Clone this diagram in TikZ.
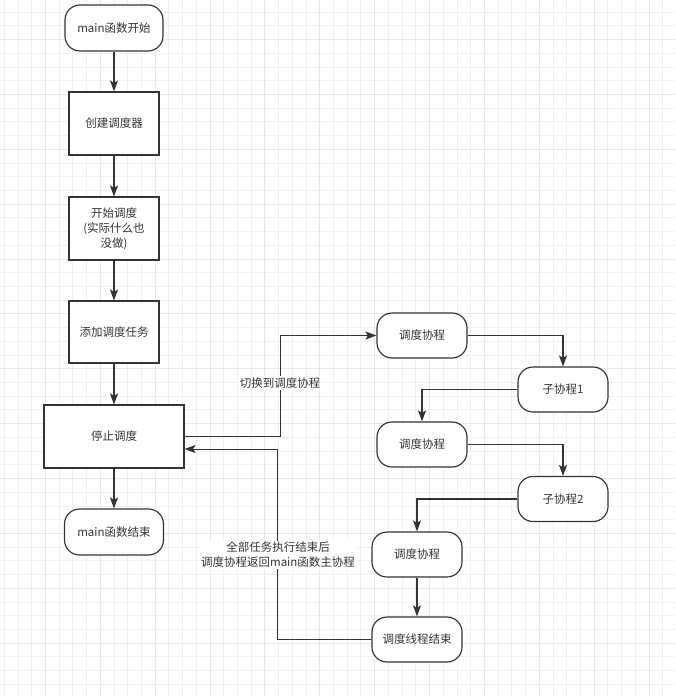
\documentclass[tikz,border=0pt]{standalone}
\usepackage{fontspec}
\setmainfont{Noto Sans CJK SC}
\usetikzlibrary{arrows.meta,calc}
\definecolor{ink}{HTML}{333333}
\definecolor{gridminor}{HTML}{F1F1F1}
\definecolor{gridmajor}{HTML}{E8E8E8}
\tikzset{
  base/.style={draw=ink, line width=1.15pt, fill=white, text=ink, inner sep=0pt,
    align=center, font=\fontsize{11.5}{15}\selectfont},
  boxnode/.style={base, rectangle, minimum width=90pt, minimum height=63pt},
  pill/.style={base, rectangle, rounded corners=15pt, minimum width=90pt, minimum height=45pt},
  arr/.style={draw=ink, line width=1.3pt, -{Stealth[length=11pt,width=8pt,inset=2.5pt]}},
  thinarr/.style={arr, line width=1pt},
  lbl/.style={fill=white, text=ink, inner sep=1.5pt, align=center,
    font=\fontsize{11.5}{15}\selectfont},
}
\begin{document}
\begin{tikzpicture}[x=1pt, y=-1pt]
\useasboundingbox (0,0) rectangle (675,696);
\fill[white] (0,0) rectangle (675,696);

% background grid: light lines every 13.7 units, darker every fourth,
% snapped to whole units so each line stays one unit wide
\foreach \k in {-3,...,46} {
  \pgfmathsetmacro\gx{round(45+13.717*\k)+0.5}
  \draw[gridminor, line width=1pt] (\gx,0) -- (\gx,696);
}
\foreach \k in {-6,...,43} {
  \pgfmathsetmacro\gy{round(94+13.717*\k)+0.5}
  \draw[gridminor, line width=1pt] (0,\gy) -- (675,\gy);
}
\foreach \k in {0,...,11} {
  \pgfmathsetmacro\gx{round(45+54.87*\k)+0.5}
  \draw[gridmajor, line width=1pt] (\gx,0) -- (\gx,696);
}
\foreach \k in {-1,...,10} {
  \pgfmathsetmacro\gy{round(94+54.87*\k)+0.5}
  \draw[gridmajor, line width=1pt] (0,\gy) -- (675,\gy);
}

% main thread
\node[pill, minimum width=98pt, minimum height=46pt] (start) at (114,28) {main函数开始};
\node[boxnode] (create) at (114,123.5) {创建调度器};
\node[boxnode] (begin) at (114,228.5) {开始调度\\(实际什么也\\没做)};
\node[boxnode, minimum height=62pt] (add) at (114,332) {添加调度任务};
\node[boxnode, minimum width=140pt] (stop) at (114,436.5) {停止调度};
\node[pill, minimum width=99pt, minimum height=46pt] (fin) at (114,532) {main函数结束};

% scheduler coroutines
\node[pill] (co1) at (422,335.5) {调度协程};
\node[pill] (sub1) at (563,389.5) {子协程1};
\node[pill] (co2) at (422,444.5) {调度协程};
\node[pill] (sub2) at (563,499) {子协程2};
\node[pill] (co3) at (417,554.5) {调度协程};
\node[pill] (tend) at (417,639.5) {调度线程结束};

% main column flow
\draw[arr] (start) -- (create);
\draw[arr] (create) -- (begin);
\draw[arr] (begin) -- (add);
\draw[arr] (add) -- (stop);
\draw[arr] (stop) -- (fin);

% switching into the scheduler and back
\draw[thinarr] (stop.east) -- ++(96,0) |- (co1.west);
\draw[thinarr] (tend.west) -- ++(-94,0) |- ([yshift=-12.5pt]stop.east);

% scheduler flow
\draw[arr] (co1.east) -| (sub1.north);
\draw[arr] (sub1.west) -| (co2.north);
\draw[arr] (co2.east) -| (sub2.north);
\draw[arr] (sub2.west) -| (co3.north);
\draw[arr] (co3) -- (tend);

% connector labels
\node[lbl] (l1) at (280,383) {切换到调度协程};
\node[lbl] (l2) at (278,555) {全部任务执行结束后\\调度协程返回main函数主协程};
\end{tikzpicture}
\end{document}
